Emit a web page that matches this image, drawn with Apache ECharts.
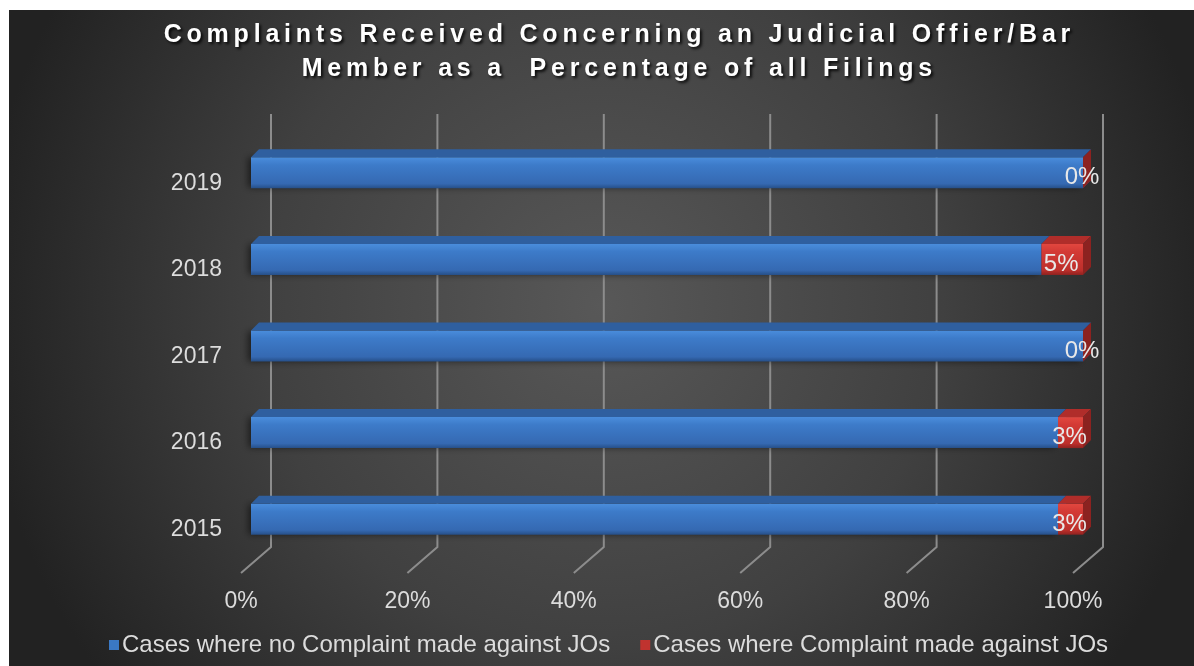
<!DOCTYPE html>
<html>
<head>
<meta charset="utf-8">
<style>
  html, body { margin: 0; padding: 0; background: #ffffff; }
  #chart { width: 1194px; height: 666px; }
</style>
<script src="https://cdn.jsdelivr.net/npm/echarts@6/dist/echarts.min.js"></script>
</head>
<body>
<div id="chart"></div>
<script>
// Complaint share per year (percent of all filings)
const years = ['2015', '2016', '2017', '2018', '2019'];
const noComplaintPct = [97, 97, 100, 95, 100];
const complaintPct = [3, 3, 0, 5, 0];
const axisTicks = [0, 20, 40, 60, 80, 100];

const titleLines = [
  'Complaints Received Concerning an Judicial Offier/Bar',
  'Member as a  Percentage of all Filings'
];

const seriesNames = [
  'Cases where no Complaint made against JOs',
  'Cases where Complaint made against JOs'
];

// 3D look: back wall offset and bar box geometry (pixels)
const WALL_DX = 30, WALL_DY = -26;
const BAR_DX = 10, FRONT_TOP = -26, FRONT_BOTTOM = 5;
const DEPTH_X = 8, DEPTH_Y = 8;

const palette = {
  blue: {
    front: ['#4a8ddc', '#3d7bc9', '#3569b2', '#264f88'],
    top: '#2f5f9f',
    side: '#24518c',
    legend: '#3a78c4'
  },
  red: {
    front: ['#e2473f', '#d33a35', '#bd2f2b', '#8f2220'],
    top: '#b02d2a',
    side: '#8c2220',
    legend: '#c0332f'
  }
};

// Expanded character spacing for the title: every glyph is its own rich token with side padding
function spacedTitle(lines) {
  return lines.map(line => line.split('').map(ch => '{s|' + ch + '}').join('')).join('\n');
}

function boxRenderer(colors, withLabel, withShadow) {
  return function (params, api) {
    const start = api.value(0), end = api.value(1), cat = api.value(2);
    const a = api.coord([start, cat]);
    const b = api.coord([end, cat]);
    const x0 = a[0] + BAR_DX, x1 = b[0] + BAR_DX;
    const yT = a[1] + FRONT_TOP, yB = a[1] + FRONT_BOTTOM;
    const frontStyle = {
      fill: new echarts.graphic.LinearGradient(0, 0, 0, 1, [
        { offset: 0, color: colors.front[0] },
        { offset: 0.25, color: colors.front[1] },
        { offset: 0.85, color: colors.front[2] },
        { offset: 1, color: colors.front[3] }
      ])
    };
    if (withShadow) {
      frontStyle.shadowColor = 'rgba(0,0,0,0.55)';
      frontStyle.shadowBlur = 7;
      frontStyle.shadowOffsetX = -3;
    }
    const children = [
      {
        type: 'rect',
        shape: { x: x0, y: yT, width: Math.max(0, x1 - x0), height: yB - yT },
        style: frontStyle
      },
      {
        type: 'polygon',
        shape: { points: [[x0, yT], [x1, yT], [x1 + DEPTH_X, yT - DEPTH_Y], [x0 + DEPTH_X, yT - DEPTH_Y]] },
        style: { fill: colors.top }
      },
      {
        type: 'polygon',
        shape: { points: [[x1, yT], [x1 + DEPTH_X, yT - DEPTH_Y], [x1 + DEPTH_X, yB - DEPTH_Y], [x1, yB]] },
        style: { fill: colors.side }
      }
    ];
    if (withLabel) {
      children.push({
        type: 'text',
        style: {
          text: (end - start) + '%',
          x: (x0 + x1) / 2 - 1,
          y: (yT + yB) / 2 + 5,
          align: 'center',
          verticalAlign: 'middle',
          fill: '#e8e8e8',
          font: '24px "Liberation Sans", Arial, sans-serif'
        }
      });
    }
    return { type: 'group', children: children };
  };
}

const blueData = years.map((y, i) => [0, noComplaintPct[i], i]);
const redData = years.map((y, i) => [noComplaintPct[i], noComplaintPct[i] + complaintPct[i], i]);
const wallData = axisTicks.map(v => [v, 0]);

const chart = echarts.init(document.getElementById('chart'), null, { renderer: 'canvas' });

chart.setOption({
  backgroundColor: '#ffffff',
  animation: false,
  graphic: [{
    type: 'rect',
    z: -10,
    silent: true,
    shape: { x: 9, y: 10, width: 1185, height: 656 },
    style: {
      fill: new echarts.graphic.RadialGradient(0.5, 0.45, 0.95, [
        { offset: 0, color: '#585858' },
        { offset: 0.55, color: '#404040' },
        { offset: 1, color: '#222222' }
      ])
    }
  }],
  title: {
    text: spacedTitle(titleLines),
    left: 612,
    top: 13,
    textAlign: 'center',
    textStyle: {
      lineHeight: 34,
      rich: {
        s: {
          color: '#ffffff',
          fontFamily: '"Liberation Sans", Arial, sans-serif',
          fontWeight: 'bold',
          fontSize: 25,
          lineHeight: 34,
          padding: [0, 2.4, 0, 2.4],
          textShadowColor: 'rgba(0,0,0,0.85)',
          textShadowBlur: 3,
          textShadowOffsetX: 2,
          textShadowOffsetY: 2
        }
      }
    }
  },
  legend: {
    left: 104,
    top: 628,
    itemWidth: 10,
    itemHeight: 10,
    itemGap: 30,
    icon: 'rect',
    data: seriesNames,
    textStyle: {
      color: '#dcdcdc',
      fontSize: 24,
      fontFamily: '"Liberation Sans", Arial, sans-serif',
      padding: [0, 0, 0, -2]
    }
  },
  grid: { left: 241, right: 121, top: 140, bottom: 93, containLabel: false },
  xAxis: {
    type: 'value',
    min: 0,
    max: 100,
    interval: 20,
    axisLine: { show: false },
    axisTick: { show: false },
    splitLine: { show: false },
    axisLabel: {
      formatter: '{value}%',
      color: '#dcdcdc',
      fontSize: 23,
      fontFamily: '"Liberation Sans", Arial, sans-serif',
      margin: 17
    }
  },
  yAxis: {
    type: 'category',
    data: years,
    axisLine: { show: false },
    axisTick: { show: false },
    splitLine: { show: false },
    axisLabel: {
      color: '#dcdcdc',
      fontSize: 23,
      fontFamily: '"Liberation Sans", Arial, sans-serif',
      margin: 19
    }
  },
  series: [
    {
      name: 'wall',
      type: 'custom',
      silent: true,
      clip: false,
      z: 1,
      data: wallData,
      encode: { x: 0, y: 1 },
      renderItem: function (params, api) {
        const p = api.coord([api.value(0), 0]);
        const cs = params.coordSys;
        const bottom = cs.y + cs.height;
        const top = cs.y;
        return {
          type: 'polyline',
          shape: { points: [[p[0] + WALL_DX, top + WALL_DY], [p[0] + WALL_DX, bottom + WALL_DY], [p[0], bottom]] },
          style: { stroke: '#8c8c8c', lineWidth: 2, fill: null }
        };
      }
    },
    {
      name: seriesNames[0],
      type: 'custom',
      clip: false,
      z: 3,
      itemStyle: { color: palette.blue.legend },
      data: blueData,
      encode: { x: [0, 1], y: 2 },
      renderItem: boxRenderer(palette.blue, false, true)
    },
    {
      name: seriesNames[1],
      type: 'custom',
      clip: false,
      z: 4,
      itemStyle: { color: palette.red.legend },
      data: redData,
      encode: { x: [0, 1], y: 2 },
      renderItem: boxRenderer(palette.red, true, false)
    }
  ]
});
</script>
</body>
</html>
